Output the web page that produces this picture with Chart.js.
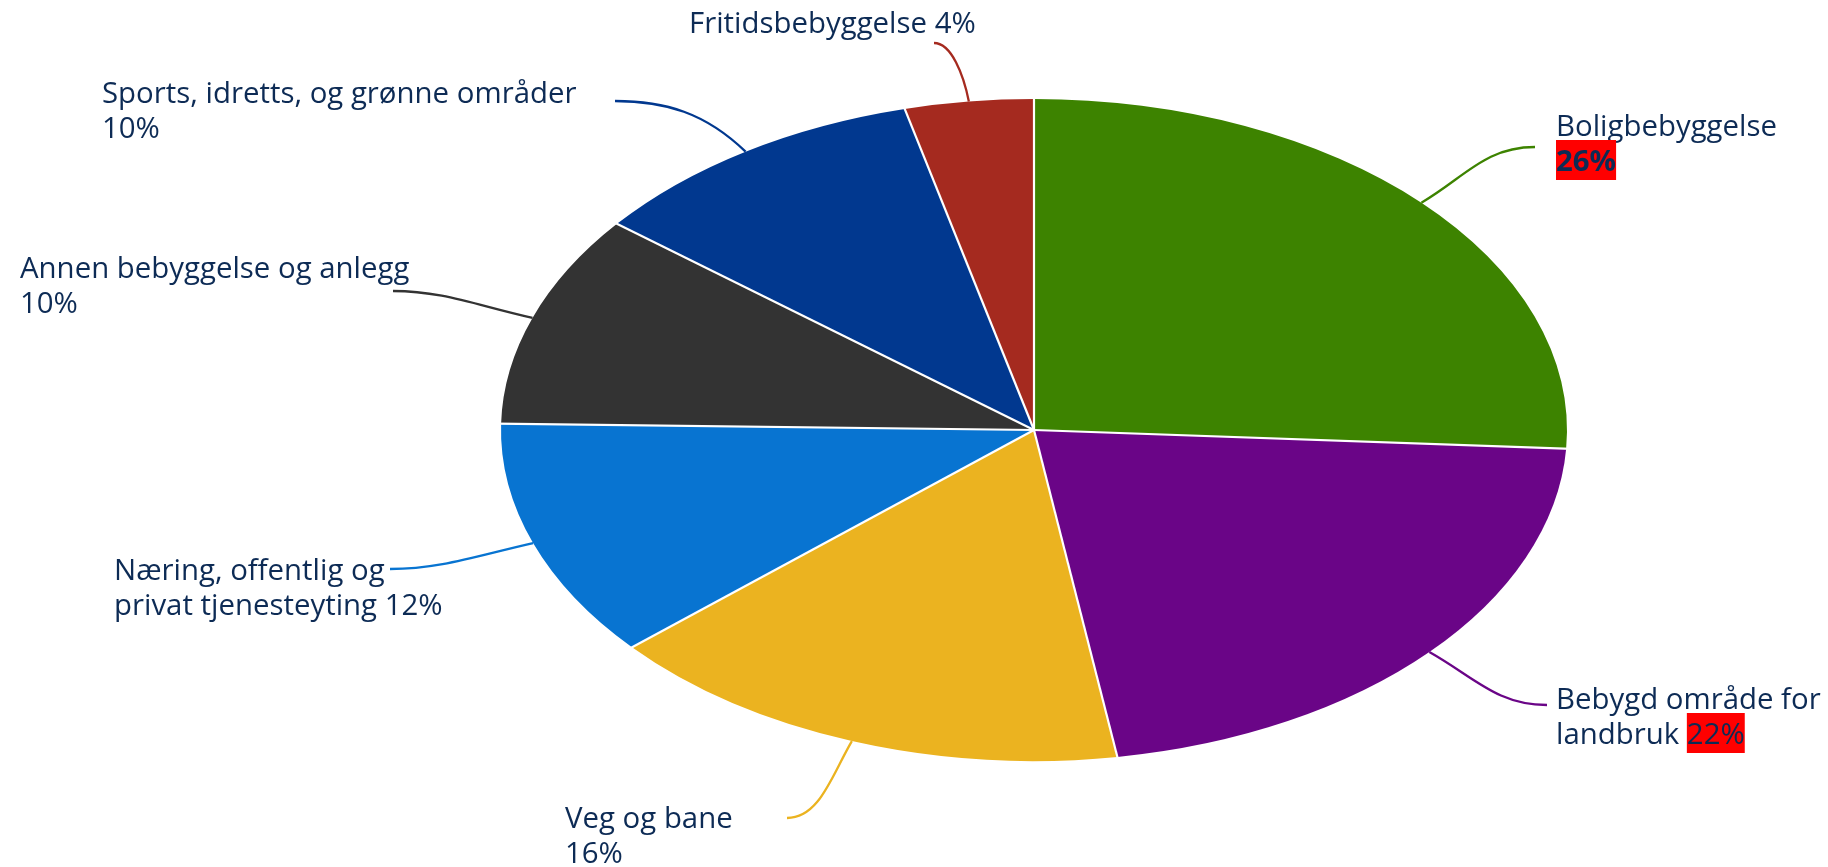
<!DOCTYPE html>
<html>
<head>
<meta charset="utf-8">
<script src="https://cdn.jsdelivr.net/npm/chart.js@4/dist/chart.umd.min.js"></script>
<style>
html,body{margin:0;padding:0;background:#fff;}
canvas{display:block;}
</style>
</head>
<body>
<canvas id="c" width="1828" height="867"></canvas>
<script>
// ---- data ----
const categories = [
  "Boligbebyggelse",
  "Bebygd område for landbruk",
  "Veg og bane",
  "Næring, offentlig og privat tjenesteyting",
  "Annen bebyggelse og anlegg",
  "Sports, idretts, og grønne områder",
  "Fritidsbebyggelse"
];
const values = [25.9, 21.6, 16.1, 11.7, 10.4, 10.4, 3.9];
const sliceColors = ["#3d8300", "#6a0587", "#ebb320", "#0874d1", "#333333", "#01388f", "#a52a1f"];

// label text wrapping ({p} = rounded percentage)
const labelLines = [
  [[{t:"Boligbebyggelse"}], [{t:"{p}", bold:true, bg:true}]],
  [[{t:"Bebygd område for"}], [{t:"landbruk "}, {t:"{p}", bg:true}]],
  [[{t:"Veg og bane"}], [{t:"{p}"}]],
  [[{t:"Næring, offentlig og"}], [{t:"privat tjenesteyting {p}"}]],
  [[{t:"Annen bebyggelse og anlegg"}], [{t:"{p}"}]],
  [[{t:"Sports, idretts, og grønne områder"}], [{t:"{p}"}]],
  [[{t:"Fritidsbebyggelse {p}"}]]
];

// ---- layout (positions only) ----
const ellipse = {cx: 1034, cy: 430, rx: 533, ry: 331};
const labelLayout = [
  {x: 1556, y: 136, ax: 1535, ay: 147},
  {x: 1556, y: 709, ax: 1547, ay: 705},
  {x: 565,  y: 828, ax: 787,  ay: 818},
  {x: 114,  y: 580, ax: 390,  ay: 569},
  {x: 20,   y: 278, ax: 393,  ay: 291},
  {x: 102,  y: 103, ax: 615,  ay: 101},
  {x: 689,  y: 33,  ax: 934,  ay: 43}
];
const FONT_FAMILY = "'Open Sans', 'Noto Sans', sans-serif";
const FONT_SIZE = 29.4;
const LINE_H = 35;
const TEXT_COLOR = "#0d2b55";

const total = values.reduce((a, b) => a + b, 0);

const ellipsePlugin = {
  id: 'ellipse',
  beforeDatasetsDraw(chart) {
    const ctx = chart.ctx;
    const arc = chart.getDatasetMeta(0).data[0];
    const sx = ellipse.rx / arc.outerRadius;
    const sy = ellipse.ry / arc.outerRadius;
    ctx.save();
    ctx.translate(arc.x, arc.y);
    ctx.scale(sx, sy);
    ctx.translate(-arc.x, -arc.y);
  },
  afterDatasetsDraw(chart) {
    const ctx = chart.ctx;
    ctx.restore();
    const meta = chart.getDatasetMeta(0);
    const first = meta.data[0];
    const cx = first.x, cy = first.y;
    const kx = ellipse.rx / first.outerRadius, ky = ellipse.ry / first.outerRadius;
    // white separators
    ctx.save();
    ctx.strokeStyle = "#ffffff";
    ctx.lineWidth = 2.2;
    ctx.lineCap = "butt";
    meta.data.forEach(a => {
      const ang = a.startAngle;
      ctx.beginPath();
      ctx.moveTo(cx, cy);
      ctx.lineTo(cx + Math.cos(ang) * a.outerRadius * kx * 1.01, cy + Math.sin(ang) * a.outerRadius * ky * 1.01);
      ctx.stroke();
    });
    ctx.restore();
    // connectors
    ctx.save();
    ctx.lineWidth = 2.3;
    meta.data.forEach((a, i) => {
      const L = labelLayout[i];
      const mid = (a.startAngle + a.endAngle) / 2;
      const ux = Math.cos(mid), uy = Math.sin(mid);
      const px = cx + ux * a.outerRadius * kx;
      const py = cy + uy * a.outerRadius * ky;
      const dx = px - L.ax, dy = py - L.ay;
      const dist = Math.hypot(dx, dy);
      const n = Math.hypot(ux * kx, uy * ky);
      const ox = ux * kx / n, oy = uy * ky / n;
      const p1x = L.ax + Math.sign(dx) * Math.min(Math.abs(dx) * 0.5, 50);
      const p2x = px + ox * dist * 0.4, p2y = py + oy * dist * 0.4;
      ctx.strokeStyle = sliceColors[i];
      ctx.beginPath();
      ctx.moveTo(L.ax, L.ay);
      ctx.bezierCurveTo(p1x, L.ay, p2x, p2y, px, py);
      ctx.stroke();
    });
    ctx.restore();
  },
  afterDraw(chart) {
    const ctx = chart.ctx;
    ctx.save();
    ctx.textBaseline = "alphabetic";
    ctx.textAlign = "left";
    labelLines.forEach((lines, i) => {
      const L = labelLayout[i];
      const pct = Math.round(values[i] / total * 100) + "%";
      lines.forEach((segs, li) => {
        let x = L.x;
        const y = L.y + li * LINE_H;
        segs.forEach(s => {
          const txt = s.t.replace("{p}", pct);
          ctx.font = (s.bold ? "700 " : "400 ") + FONT_SIZE + "px " + FONT_FAMILY;
          const m = ctx.measureText(txt);
          if (s.bg) {
            const asc = m.fontBoundingBoxAscent || FONT_SIZE * 1.07;
            const desc = m.fontBoundingBoxDescent || FONT_SIZE * 0.29;
            ctx.fillStyle = "#ff0000";
            ctx.fillRect(x, y - asc, m.width, asc + desc);
          }
          ctx.fillStyle = TEXT_COLOR;
          ctx.fillText(txt, x, y);
          x += m.width;
        });
      });
    });
    ctx.restore();
  }
};

new Chart(document.getElementById('c'), {
  type: 'pie',
  data: {
    labels: categories,
    datasets: [{
      data: values,
      backgroundColor: sliceColors,
      borderWidth: 0,
      hoverOffset: 0,
      offset: 0
    }]
  },
  options: {
    responsive: false,
    animation: false,
    events: [],
    layout: {padding: {left: 703, right: 463, top: 99, bottom: 106}},
    plugins: {legend: {display: false}, tooltip: {enabled: false}}
  },
  plugins: [ellipsePlugin]
});
</script>
</body>
</html>
